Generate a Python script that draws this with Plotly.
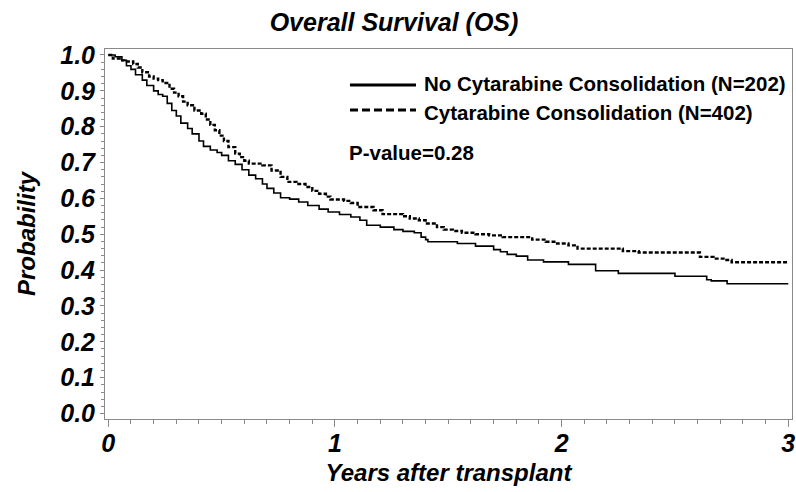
import plotly.graph_objects as go

# Kaplan-Meier step data
no_cyt_time = [0, 0.03, 0.06, 0.08, 0.10, 0.12, 0.15, 0.17, 0.20, 0.22, 0.24, 0.26, 0.28, 0.30,
               0.32, 0.35, 0.37, 0.40, 0.42, 0.45, 0.48, 0.50, 0.53, 0.56, 0.59, 0.62, 0.65,
               0.68, 0.70, 0.73, 0.76, 0.80, 0.84, 0.88, 0.93, 0.97, 1.02, 1.07, 1.11, 1.14,
               1.20, 1.26, 1.30, 1.35, 1.38, 1.40, 1.41, 1.54, 1.62, 1.70, 1.73, 1.76, 1.80,
               1.85, 1.92, 2.03, 2.15, 2.25, 2.50, 2.64, 2.66, 2.73, 3.0]
no_cyt_surv = [1.0, 0.995, 0.985, 0.97, 0.96, 0.945, 0.93, 0.915, 0.90, 0.89, 0.885, 0.865, 0.845,
               0.83, 0.81, 0.795, 0.78, 0.76, 0.745, 0.735, 0.728, 0.72, 0.705, 0.695, 0.68,
               0.665, 0.655, 0.64, 0.628, 0.615, 0.602, 0.598, 0.59, 0.58, 0.57, 0.562, 0.555,
               0.548, 0.539, 0.525, 0.52, 0.513, 0.508, 0.504, 0.492, 0.485, 0.479, 0.474,
               0.467, 0.457, 0.451, 0.444, 0.439, 0.428, 0.423, 0.416, 0.398, 0.391, 0.383,
               0.373, 0.37, 0.362, 0.362]

cyt_time = [0, 0.02, 0.05, 0.07, 0.11, 0.13, 0.15, 0.18, 0.20, 0.22, 0.24, 0.27, 0.29, 0.31,
            0.33, 0.35, 0.38, 0.41, 0.43, 0.45, 0.47, 0.49, 0.51, 0.53, 0.56, 0.58, 0.60, 0.62,
            0.68, 0.72, 0.76, 0.79, 0.83, 0.87, 0.90, 0.93, 0.96, 0.98, 1.04, 1.07, 1.10, 1.17,
            1.21, 1.30, 1.33, 1.37, 1.40, 1.45, 1.48, 1.52, 1.56, 1.62, 1.68, 1.74, 1.87, 1.93,
            1.98, 2.03, 2.07, 2.27, 2.34, 2.61, 2.67, 2.72, 2.75, 3.0]
cyt_surv = [1.0, 0.99, 0.985, 0.982, 0.975, 0.965, 0.952, 0.94, 0.934, 0.93, 0.922, 0.906, 0.895,
            0.885, 0.87, 0.86, 0.845, 0.836, 0.82, 0.805, 0.79, 0.775, 0.76, 0.743, 0.725, 0.715,
            0.705, 0.697, 0.692, 0.678, 0.66, 0.646, 0.64, 0.632, 0.621, 0.613, 0.605, 0.597,
            0.593, 0.587, 0.576, 0.567, 0.556, 0.55, 0.544, 0.539, 0.530, 0.52, 0.513, 0.509,
            0.504, 0.50, 0.497, 0.492, 0.485, 0.479, 0.474, 0.469, 0.46, 0.453, 0.449, 0.437,
            0.432, 0.428, 0.422, 0.422]

series_names = ["No Cytarabine Consolidation (N=202)", "Cytarabine Consolidation (N=402)"]
p_value_text = "P-value=0.28"
x_ticks = [0, 1, 2, 3]
y_ticks = [0.0, 0.1, 0.2, 0.3, 0.4, 0.5, 0.6, 0.7, 0.8, 0.9, 1.0]

FONT = "Liberation Sans, Arial, sans-serif"
AXIS_COLOR = "#8a8a8a"

fig = go.Figure()
fig.add_trace(go.Scatter(x=no_cyt_time, y=no_cyt_surv, mode="lines", line_shape="hv",
                         line=dict(color="black", width=1.6), name=series_names[0],
                         showlegend=False))
fig.add_trace(go.Scatter(x=cyt_time, y=cyt_surv, mode="lines", line_shape="hv",
                         line=dict(color="black", width=2.4, dash="4px,2px"), name=series_names[1],
                         showlegend=False))

tickfont = dict(family=FONT, size=25, color="black", weight="bold", style="italic")
titlefont = dict(family=FONT, size=24, color="black", weight="bold", style="italic")

fig.update_xaxes(range=[-0.0146, 3.0163], tickvals=x_ticks, ticktext=[str(v) for v in x_ticks],
                 automargin=False, ticklabeloverflow="allow", ticklabelstandoff=-5,
                 showgrid=False, zeroline=False, showline=True, linecolor=AXIS_COLOR, linewidth=1,
                 mirror=True, ticks="outside", ticklen=7, tickcolor=AXIS_COLOR, tickwidth=1,
                 tickfont=tickfont,
                 minor=dict(dtick=0.1, tick0=0, ticks="outside", ticklen=4, tickcolor=AXIS_COLOR,
                            showgrid=False),
                 title=dict(text="Years after transplant", font=titlefont, standoff=8))
fig.update_yaxes(range=[-0.0153, 1.0167], tickvals=y_ticks, tickformat=".1f",
                 automargin=False,
                 showgrid=False, zeroline=False, showline=True, linecolor=AXIS_COLOR, linewidth=1,
                 mirror=True, ticks="outside", ticklen=4, tickcolor=AXIS_COLOR, tickwidth=1,
                 tickfont=tickfont,
                 minor=dict(dtick=0.02, tick0=0, ticks="outside", ticklen=3, tickcolor=AXIS_COLOR,
                            showgrid=False),
                 title=dict(text="Probability", font=titlefont, standoff=17))

# legend drawn as decorations
legend_font = dict(family=FONT, size=20.5, color="black", weight="bold")
fig.add_shape(type="line", xref="paper", yref="paper", x0=0.3566, x1=0.4527, y0=0.9027, y1=0.9027,
              line=dict(color="black", width=3))
fig.add_shape(type="line", xref="paper", yref="paper", x0=0.3566, x1=0.4527, y0=0.835, y1=0.835,
              line=dict(color="black", width=3, dash="8px,4px"))
fig.add_annotation(xref="paper", yref="paper", x=0.4610, y=0.9068, xanchor="left", yanchor="middle",
                   text=series_names[0], showarrow=False, font=legend_font)
fig.add_annotation(xref="paper", yref="paper", x=0.4610, y=0.8284, xanchor="left", yanchor="middle",
                   text=series_names[1], showarrow=False, font=legend_font)
fig.add_annotation(xref="paper", yref="paper", x=0.3518, y=0.7216, xanchor="left", yanchor="middle",
                   text=p_value_text, showarrow=False, font=legend_font)

fig.update_layout(
    width=796, height=492,
    margin=dict(l=105, r=4, t=49, b=73),
    paper_bgcolor="white", plot_bgcolor="white",
    title=dict(text="Overall Survival (OS)", x=0.495, xanchor="center", y=0.955, yanchor="middle",
               font=dict(family=FONT, size=25, color="black", weight="bold", style="italic")),
)

fig.write_html("out.html", config={"displayModeBar": False},
               post_script="document.body.style.margin='0px';document.body.style.overflow='hidden';")
